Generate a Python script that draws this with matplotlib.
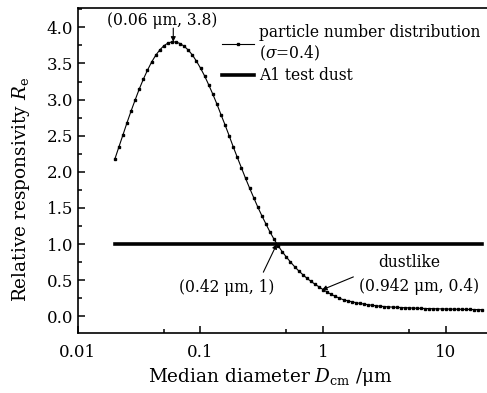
import matplotlib
matplotlib.use('Agg')
import numpy as np
import matplotlib.pyplot as plt
from matplotlib.ticker import MultipleLocator, FixedLocator, NullFormatter

plt.rcParams['font.family'] = 'DejaVu Serif'
plt.rcParams['mathtext.fontset'] = 'dejavuserif'

# ── data ──
# sampling grid: uniform in log10(D) from 0.02 um to 20 um (91 points)
d_cm = np.geomspace(0.02, 20, 91)
r_e = [
    2.175, 2.344, 2.512, 2.682, 2.844, 2.998, 3.148, 3.284, 3.407, 3.519,
    3.612, 3.687, 3.745, 3.782, 3.800, 3.796, 3.776, 3.738, 3.685, 3.617,
    3.531, 3.434, 3.326, 3.203, 3.074, 2.938, 2.791, 2.648, 2.499, 2.345,
    2.199, 2.055, 1.911, 1.775, 1.643, 1.513, 1.392, 1.278, 1.166, 1.065,
    0.974, 0.893, 0.820, 0.752, 0.688, 0.630, 0.578, 0.528, 0.484, 0.444,
    0.407, 0.369, 0.334, 0.303, 0.275, 0.250, 0.228, 0.214, 0.201, 0.189,
    0.178, 0.169, 0.160, 0.152, 0.145, 0.139, 0.134, 0.130, 0.127, 0.124,
    0.121, 0.118, 0.116, 0.113, 0.111, 0.109, 0.107, 0.106, 0.104, 0.103,
    0.102, 0.100, 0.099, 0.098, 0.097, 0.096, 0.095, 0.094, 0.093, 0.092,
    0.091,
]
a1_x = [0.02, 20]
a1_y = [1.0, 1.0]

fig = plt.figure(figsize=(4.87, 3.93), dpi=100)
ax = fig.add_axes([0.160, 0.153, 0.840, 0.827])

ax.plot(d_cm, r_e, color='black', lw=0.8, marker='s', ms=1.9,
        label='particle number distribution\n($\\sigma$=0.4)')
ax.plot(a1_x, a1_y, color='black', lw=2.6, label='A1 test dust')

ax.set_xscale('log')
ax.set_xlim(0.01, 21.8)
ax.set_ylim(-0.23, 4.27)

ax.xaxis.set_major_locator(FixedLocator([0.01, 0.1, 1, 10]))
ax.set_xticklabels(['0.01', '0.1', '1', '10'])
ax.xaxis.set_minor_locator(FixedLocator([0.05, 0.5, 5]))
ax.xaxis.set_minor_formatter(NullFormatter())
ax.yaxis.set_major_locator(MultipleLocator(0.5))
ax.yaxis.set_minor_locator(MultipleLocator(0.25))
ax.yaxis.set_major_formatter(matplotlib.ticker.FormatStrFormatter('%.1f'))

ax.tick_params(which='both', direction='in', labelsize=12, width=1.1)
ax.tick_params(which='major', length=5)
ax.tick_params(which='minor', length=3)
ax.tick_params(axis='x', pad=8)
ax.spines['right'].set_visible(False)
for s in ['left', 'top', 'bottom']:
    ax.spines[s].set_linewidth(1.2)

ax.set_xlabel('Median diameter $D_\\mathrm{cm}$ /\u03bcm', fontsize=13.3)
ax.set_ylabel('Relative responsivity $R_\\mathrm{e}$', fontsize=13.3)
ax.xaxis.set_label_coords(0.47, -0.103)
ax.yaxis.set_label_coords(-0.112, 0.44)

arr = dict(arrowstyle='-|>', color='black', lw=0.8, mutation_scale=7,
           shrinkA=0, shrinkB=0)
fs = 11.2
ax.text(0.049, 4.1, '(0.06 \u03bcm, 3.8)', ha='center', va='center', fontsize=fs)
ax.annotate('', xy=(0.06, 3.8), xytext=(0.06, 3.99), arrowprops=arr)
ax.text(0.165, 0.40, '(0.42 \u03bcm, 1)', ha='center', va='center', fontsize=fs)
ax.annotate('', xy=(0.42, 1.0), xytext=(0.326, 0.61), arrowprops=arr)
ax.annotate('', xy=(0.98, 0.365), xytext=(1.77, 0.545), arrowprops=arr)
ax.text(5.1, 0.75, 'dustlike', ha='center', va='center', fontsize=fs)
ax.text(6.1, 0.41, '(0.942 \u03bcm, 0.4)', ha='center', va='center', fontsize=fs)

ax.legend(loc='upper left', bbox_to_anchor=(0.325, 0.985), frameon=False,
          fontsize=fs, handlelength=2.1, handletextpad=0.3,
          labelspacing=0.3, borderpad=0.2)

fig.savefig('out.png', dpi=100)
